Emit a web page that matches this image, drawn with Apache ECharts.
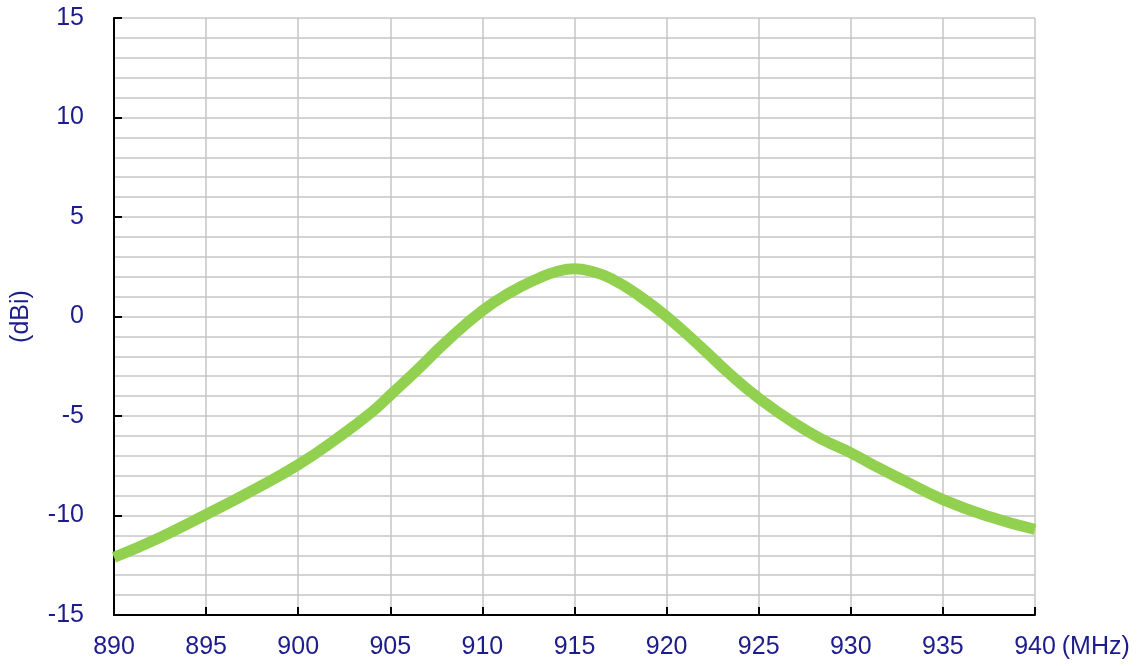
<!DOCTYPE html>
<html>
<head>
<meta charset="utf-8">
<script src="https://cdn.jsdelivr.net/npm/echarts@6/dist/echarts.min.js"></script>
<style>
html,body{margin:0;padding:0;background:#fff;}
#chart{width:1141px;height:666px;}
</style>
</head>
<body>
<div id="chart"></div>
<script>
const freqs = [890, 892.5, 895, 897.5, 900, 902, 904, 905, 906.5, 908, 910, 911.5, 913, 914, 915, 916, 917, 918.5, 920, 922, 923.5, 925, 927, 928.5, 930, 931.5, 933, 935, 937.5, 940];
const gain = [-12.1, -11.1, -9.95, -8.75, -7.45, -6.2, -4.8, -3.95, -2.65, -1.3, 0.3, 1.2, 1.9, 2.25, 2.4, 2.25, 1.9, 1.05, 0.0, -1.65, -2.95, -4.1, -5.4, -6.2, -6.85, -7.6, -8.3, -9.2, -10.05, -10.7];
const xUnit = '(MHz)';
const yUnit = '(dBi)';

const textColor = '#1c1c8c';
const font = 'Liberation Sans, Arial, sans-serif';
const gridColor = '#c6c6c6';

const chart = echarts.init(document.getElementById('chart'));
chart.setOption({
  animation: false,
  backgroundColor: '#ffffff',
  grid: { left: 114, right: 106, top: 18, bottom: 51, containLabel: false },
  xAxis: {
    type: 'value', min: 890, max: 940, interval: 5,
    name: xUnit, nameLocation: 'end', nameGap: 26,
    nameTextStyle: { color: textColor, fontSize: 25, fontFamily: font, verticalAlign: 'top', align: 'left', padding: [20, 0, 0, 0] },
    axisLine: { show: true, onZero: false, lineStyle: { color: '#000', width: 2 } },
    axisTick: { show: true, inside: true, length: 8, lineStyle: { color: '#000', width: 2 } },
    axisLabel: { color: textColor, fontSize: 25, fontFamily: font, margin: 20 },
    splitLine: { show: true, lineStyle: { color: gridColor, width: 1.5 } }
  },
  yAxis: {
    type: 'value', min: -15, max: 15, interval: 5,
    name: yUnit, nameLocation: 'middle', nameGap: 80,
    nameTextStyle: { color: textColor, fontSize: 25, fontFamily: font },
    axisLine: { show: true, onZero: false, lineStyle: { color: '#000', width: 2 } },
    axisTick: { show: true, inside: true, length: 8, lineStyle: { color: '#000', width: 2 } },
    axisLabel: { color: textColor, fontSize: 25, fontFamily: font, margin: 30 },
    splitLine: { show: true, lineStyle: { color: gridColor, width: 1.5 } },
    minorTick: { show: false, splitNumber: 5 },
    minorSplitLine: { show: true, lineStyle: { color: gridColor, width: 1.5 } }
  },
  series: [{
    type: 'line',
    data: freqs.map((f, i) => [f, gain[i]]),
    smooth: 0.5,
    showSymbol: false,
    clip: true,
    lineStyle: { color: '#92d050', width: 11, cap: 'butt', join: 'round' }
  }]
});
</script>
</body>
</html>
